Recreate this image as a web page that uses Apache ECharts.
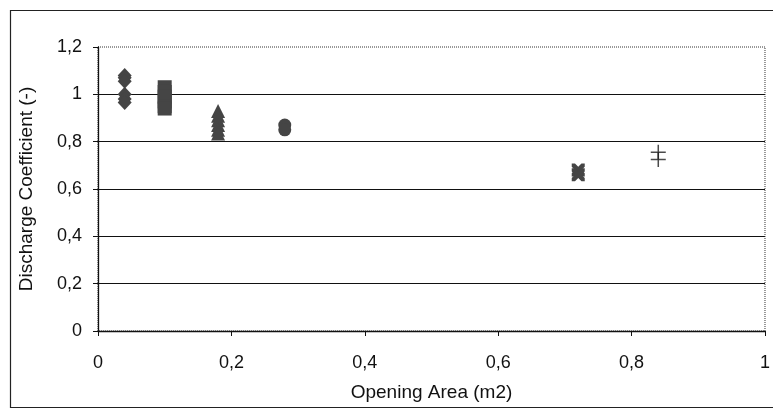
<!DOCTYPE html>
<html>
<head>
<meta charset="utf-8">
<script src="https://cdn.jsdelivr.net/npm/echarts@6/dist/echarts.min.js"></script>
<style>
html,body{margin:0;padding:0;background:#fff;}
#chart{width:773px;height:410px;}
</style>
</head>
<body>
<div id="chart"></div>
<script>
// Data (Opening Area m2, Discharge Coefficient)
const diamondX = [0.04, 0.04, 0.04, 0.04, 0.04, 0.04];
const diamondY = [1.08, 1.07, 1.055, 1.0, 0.98, 0.965];
const squareX = [0.1, 0.1, 0.1, 0.1, 0.1, 0.1];
const squareY = [1.03, 1.01, 0.99, 0.97, 0.95, 0.94];
const triangleX = [0.18, 0.18, 0.18, 0.18, 0.18, 0.18];
const triangleY = [0.93, 0.91, 0.89, 0.87, 0.85, 0.835];
const circleX = [0.28, 0.28];
const circleY = [0.87, 0.85];
const crossX = [0.72, 0.72];
const crossY = [0.68, 0.66];
const plusX = [0.84, 0.84];
const plusY = [0.755, 0.725];

const xTicks = { min: 0, max: 1, interval: 0.2 };
const yTicks = { min: 0, max: 1.2, interval: 0.2 };

function pairs(xs, ys) { return xs.map((x, i) => [x, ys[i]]); }
const comma = v => String(Math.round(v * 10) / 10).replace('.', ',');

const markColor = '#454545';
const xPath = 'path://M0,0 L5,0 L10,5 L15,0 L20,0 L20,5 L15,10 L20,15 L20,20 L15,20 L10,15 L5,20 L0,20 L0,15 L5,10 L0,5 Z';
const plusPath = 'path://M9,0 H11 V9 H20 V11 H11 V20 H9 V11 H0 V9 H9 Z';

function series(xs, ys, symbol, size, extra) {
  return Object.assign({
    type: 'scatter',
    data: pairs(xs, ys),
    symbol: symbol,
    symbolSize: size,
    itemStyle: { color: markColor, borderWidth: 0, opacity: 1 },
    emphasis: { disabled: true },
    animation: false
  }, extra || {});
}

const chart = echarts.init(document.getElementById('chart'));
chart.setOption({
  backgroundColor: '#fff',
  animation: false,
  graphic: [{
    type: 'rect',
    shape: { x: 10.5, y: 10.5, width: 790, height: 397 },
    style: { fill: 'none', stroke: '#222', lineWidth: 1.2 },
    silent: true, z: -10
  }],
  grid: {
    left: 98, right: 8, top: 47, bottom: 79,
    show: true, borderColor: '#333', borderWidth: 1, borderType: 'dotted'
  },
  xAxis: {
    type: 'value',
    min: xTicks.min, max: xTicks.max, interval: xTicks.interval,
    name: 'Opening Area (m2)',
    nameLocation: 'middle',
    nameGap: 52,
    nameTextStyle: { fontFamily: 'Liberation Sans', fontSize: 19, color: '#111' },
    axisLine: { show: true, lineStyle: { color: '#111', width: 1.3 } },
    axisTick: { show: true, inside: false, length: 5, lineStyle: { color: '#111' } },
    axisLabel: { margin: 23, fontFamily: 'Liberation Sans', fontSize: 18, color: '#111', formatter: comma },
    splitLine: { show: false }
  },
  yAxis: {
    type: 'value',
    min: yTicks.min, max: yTicks.max, interval: yTicks.interval,
    name: 'Discharge Coefficient (-)',
    nameLocation: 'middle',
    nameGap: 62,
    nameRotate: 90,
    nameTextStyle: { fontFamily: 'Liberation Sans', fontSize: 19, color: '#111' },
    axisLine: { show: true, lineStyle: { color: '#111', width: 1.3 } },
    axisTick: { show: true, inside: false, length: 5, lineStyle: { color: '#111' } },
    axisLabel: { margin: 16, fontFamily: 'Liberation Sans', fontSize: 18, color: '#111', formatter: comma },
    splitLine: { show: true, showMaxLine: false, lineStyle: { color: '#111', width: 1.2 } }
  },
  series: [
    series(diamondX, diamondY, 'diamond', [14, 15]),
    series(squareX, squareY, 'rect', [14, 14]),
    series(triangleX, triangleY, 'triangle', [14, 14]),
    series(circleX, circleY, 'circle', [13, 13]),
    series(crossX, crossY, xPath, [13, 13]),
    series(plusX, plusY, plusPath, [15, 15], { itemStyle: { color: '#1e1e1e', borderWidth: 0 } })
  ]
});
</script>
</body>
</html>
